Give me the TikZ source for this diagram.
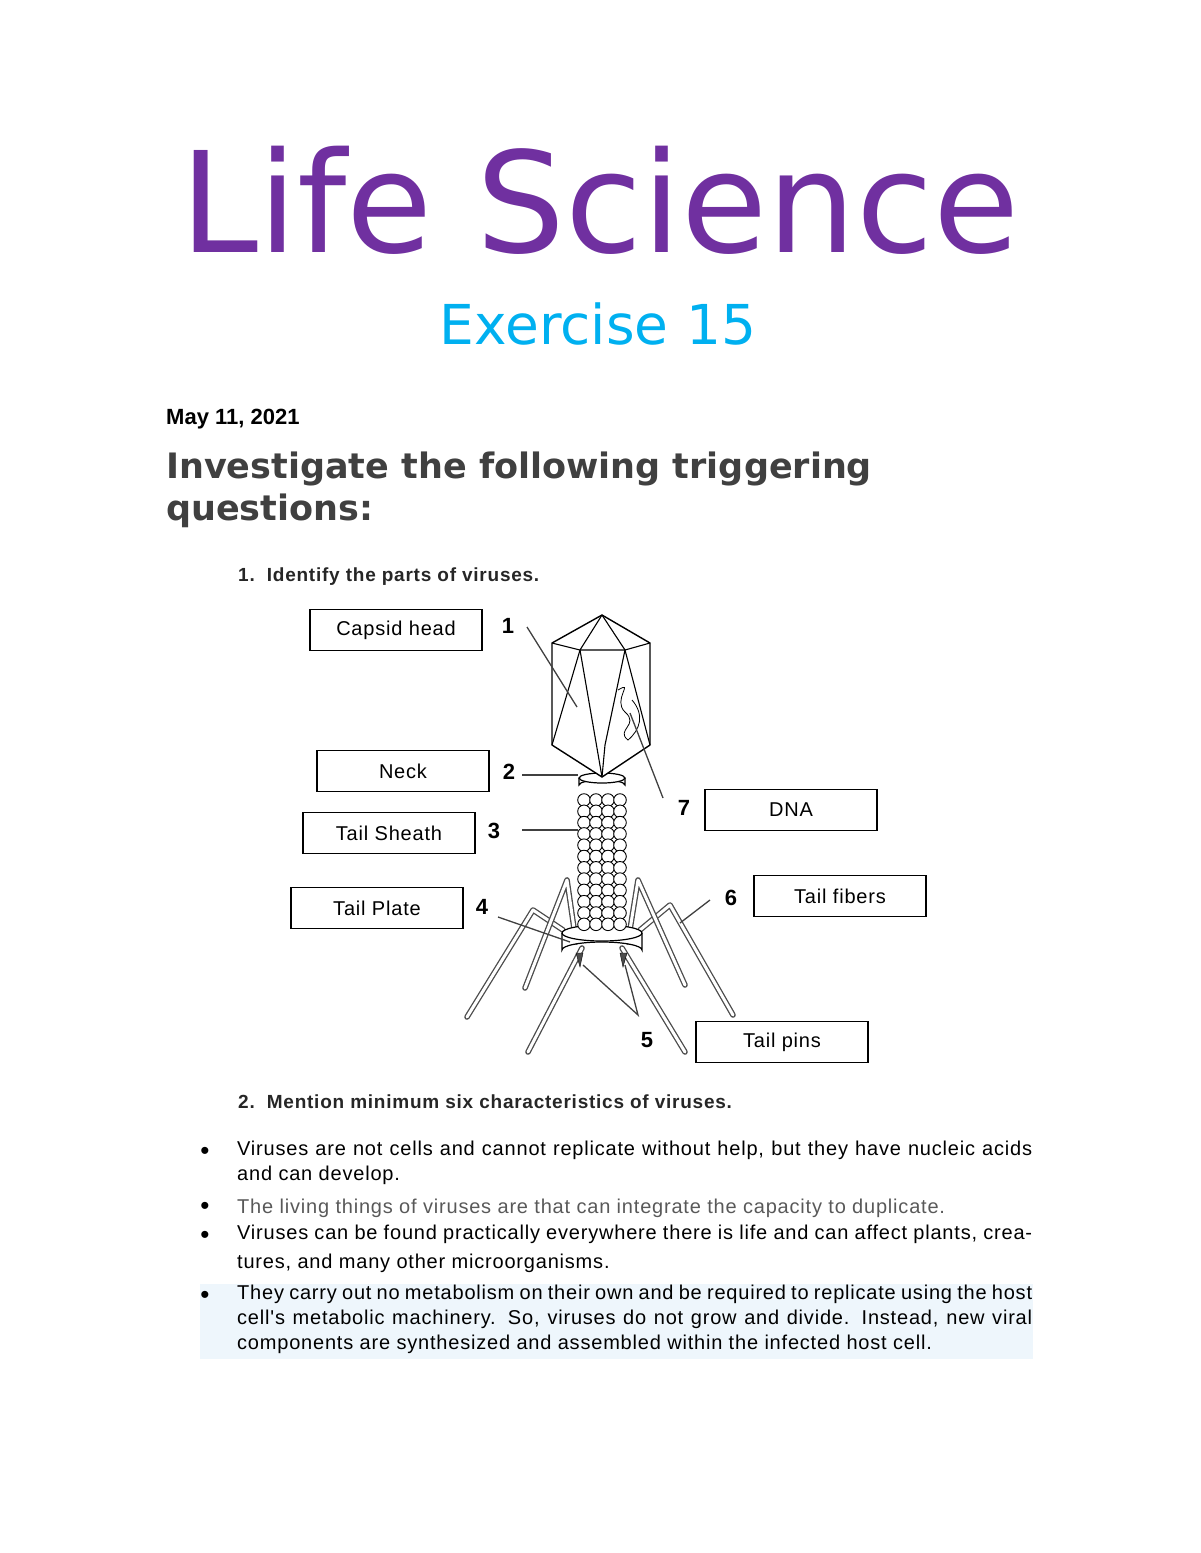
\documentclass[tikz,border=0pt]{standalone}
\usepackage{fontspec}
\setmainfont{Liberation Sans}
\newfontfamily\dejavu{DejaVu Sans}
\newfontfamily\spaced[LetterSpace=4]{Liberation Sans}
\definecolor{ttl}{HTML}{7030A0}
\definecolor{sub}{HTML}{00B0F0}
\definecolor{hd}{HTML}{404040}
\definecolor{bgblue}{HTML}{EEF6FC}
\begin{document}
\begin{tikzpicture}[x=1pt,y=-1pt,
 lbox/.style={draw,line width=1.3pt,minimum width=172pt,minimum height=41pt,font=\spaced\fontsize{20}{24}\selectfont,inner sep=0pt},
 num/.style={font=\bfseries\fontsize{22}{24}\selectfont,inner sep=0pt},
 ln/.style={line width=1.3pt,black!75},
 leg/.style={draw=black!70,double=white,double distance=3pt,line width=1.3pt,line cap=round,line join=round},
 para/.style={anchor=north west,text width=795pt,align=justify,inner sep=0pt,font=\spaced\fontsize{20}{25}\selectfont}]
\useasboundingbox (0,0) rectangle (1200,1553);
\node[text=ttl,font=\dejavu\fontsize{140}{150}\selectfont,inner sep=0pt] (title) at (600,200) {Life Science};
\node[text=sub,font=\dejavu\fontsize{55}{60}\selectfont,inner sep=0pt] (ex) at (598,324) {Exercise 15};
\node[anchor=west,font=\bfseries\fontsize{22}{24}\selectfont,inner sep=0pt] (date) at (166,419) {May 11, 2021};
\node[anchor=north west,align=left,text=hd,font=\dejavu\bfseries\fontsize{35}{42}\selectfont,inner sep=0pt] (head) at (166,452) {Investigate the following triggering\\questions:};
\node[anchor=west,font=\spaced\bfseries\fontsize{19}{22}\selectfont,inner sep=0pt,text=black!85] (q1) at (238,577) {1.\ \ Identify the parts of viruses.};
\node[anchor=west,font=\spaced\bfseries\fontsize{19}{22}\selectfont,inner sep=0pt,text=black!85] (q2) at (238,1102) {2.\ \ Mention minimum six characteristics of viruses.};

% virus: legs
\draw[leg] (563,930) -- (533,910) -- (467,1017);
\draw[leg] (640,930) -- (670,905) -- (733,1015);
\draw[leg] (576,942) -- (567,880) -- (525,988);
\draw[leg] (628,942) -- (638,880) -- (685,985);
\draw[leg] (582,948) -- (528,1052);
\draw[leg] (622,948) -- (685,1052);
% base plate
\draw[fill=white,line width=1.2pt] (562,933) -- (562,950) arc (180:360:40 and 8) -- (642,933);
\draw[fill=white,line width=1.2pt] (602,933) ellipse (40 and 8);
\draw[fill=black!70] (576,953) -- (583,953) -- (580,967) -- cycle;
\draw[fill=black!70] (620,953) -- (627,953) -- (623,967) -- cycle;
% tail sheath
\fill[white] (578,790) rectangle (626,935);
\foreach \r in {0,...,11}{
 \foreach \c in {0,...,3}{
  \draw[fill=white,line width=0.9pt] ({584+\c*12},{800+\r*11.3}) circle (6.3);
 }}
% neck collar
\draw[fill=white,line width=1.2pt] (579,778) -- (579,785) arc (180:360:23 and 5) -- (625,778);
\draw[fill=white,line width=1.2pt] (602,778) ellipse (23 and 5);
% head
\draw[fill=white,line width=1.4pt,line join=round] (602,615) -- (650,643) -- (650,745) -- (602,777) -- (552,745) -- (552,643) -- cycle;
\draw[line width=1.1pt] (552,643) -- (580,650) -- (625,650) -- (650,643);
\draw[line width=1.1pt] (602,615) -- (580,650) -- (552,745);
\draw[line width=1.1pt] (580,650) -- (602,777);
\draw[line width=1.1pt] (602,615) -- (625,650) -- (605,745) -- (602,777);
\draw[line width=1.1pt] (625,650) -- (650,745);
\draw[line width=0.8pt] (618,690) .. controls (635,680) and (612,700) .. (625,712) .. controls (640,725) and (615,730) .. (628,740) .. controls (640,730) and (645,715) .. (632,700);
% labels
\node[lbox] (b1) at (396,630) {Capsid head};
\node[lbox] (b2) at (403,771) {Neck};
\node[lbox] (b3) at (389,833) {Tail Sheath};
\node[lbox] (b4) at (377,908) {Tail Plate};
\node[lbox] (b7) at (791,810) {DNA};
\node[lbox] (b6) at (840,896) {Tail fibers};
\node[lbox] (b5) at (782,1042) {Tail pins};
\node[num] (n1) at (508,626) {1};
\node[num] (n2) at (509,772) {2};
\node[num] (n3) at (494,831) {3};
\node[num] (n4) at (482,907) {4};
\node[num] (n5) at (647,1040) {5};
\node[num] (n6) at (731,898) {6};
\node[num] (n7) at (684,808) {7};
\coordinate (t1) at (577,707); \coordinate (t2) at (578,775); \coordinate (t3) at (578,830);
\coordinate (t4) at (570,942); \coordinate (t5a) at (583,965); \coordinate (t5b) at (625,965);
\coordinate (t6) at (680,923); \coordinate (t7) at (630,713);
\draw[ln] (527,627) -- (t1);
\draw[ln] (522,775) -- (t2);
\draw[ln] (522,830) -- (t3);
\draw[ln] (498,917) -- (t4);
\draw[ln] (t5a) -- (638,1015) -- (t5b);
\draw[ln] (710,900) -- (t6);
\draw[ln] (663,798) -- (t7);

% bullets
\fill[bgblue] (200,1284) rectangle (1033,1359);
\foreach \y in {1153,1208,1237,1297}{\node[font=\fontsize{26}{24}\selectfont,inner sep=0pt] at (205,\y) {•};}
\node[para] (p1) at (237,1141) {Viruses are not cells and cannot replicate without help, but they have nucleic acids and can develop.};
\node[para,text=black!65,anchor=west] (p2) at (237,1208) {The living things of viruses are that can integrate the capacity to duplicate.};
\node[para,font=\spaced\fontsize{20}{29}\selectfont] (p3) at (237,1225) {Viruses can be found practically everywhere there is life and can affect plants, creatures, and many other microorganisms.};
\node[para] (p4) at (237,1285) {They carry out no metabolism on their own and be required to replicate using the host cell's metabolic machinery. So, viruses do not grow and divide. Instead, new viral components are synthesized and assembled within the infected host cell.};
\end{tikzpicture}
\end{document}
